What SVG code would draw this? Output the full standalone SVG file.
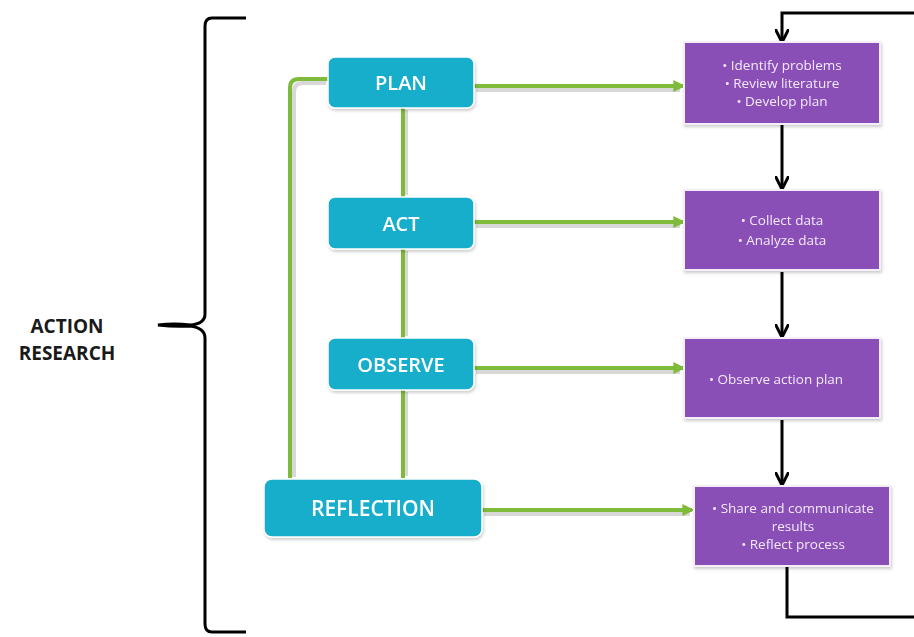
<svg xmlns="http://www.w3.org/2000/svg" width="914" height="637" viewBox="0 0 914 637">
<style>
.bg{fill:#ffffff}
.step rect{fill:#17aecb;stroke:#ffffff;stroke-width:1.5}
.step text{fill:#ffffff;font-family:"Open Sans","Liberation Sans",sans-serif;font-weight:600;text-anchor:middle}
.task rect{fill:#8a4fb6;stroke:#f4eefa;stroke-width:2}
.task text{fill:#f3e9fb;font-family:"Open Sans","Liberation Sans",sans-serif;font-size:13.5px;text-anchor:middle}
.g{fill:none;stroke:#7fbb3a;stroke-width:4}
.gs{fill:none;stroke:#d8d8d8;stroke-width:4}
.k{fill:none;stroke:#000000;stroke-width:3}
.brace{fill:none;stroke:#000000;stroke-width:3}
.lbl{font-family:"Open Sans","Liberation Sans",sans-serif;font-weight:700;font-size:19px;fill:#1a1a1a;text-anchor:middle}
</style>
<defs>
<marker id="ga" viewBox="0 0 10 10" refX="8" refY="5" markerWidth="3" markerHeight="3" orient="auto" markerUnits="strokeWidth">
<path d="M0,0 L10,5 L0,10 z" fill="#7fbb3a"/>
</marker>
<marker id="ka" viewBox="0 0 10 10" refX="9" refY="5" markerWidth="4.5" markerHeight="4.5" orient="auto" markerUnits="strokeWidth">
<path d="M0,0 L10,5 L0,10" fill="none" stroke="#000" stroke-width="2.2"/>
</marker>
<filter id="sh" x="-10%" y="-10%" width="120%" height="130%">
<feDropShadow dx="1" dy="2" stdDeviation="1.5" flood-color="#000" flood-opacity="0.2"/>
</filter>
</defs>
<rect class="bg" x="0" y="0" width="914" height="637"/>

<g id="brace-label">
<path class="brace" d="M246,18 L212,18 Q205,18 205,26 L205,314 Q205,324 190,325 Q175,323 158,325 Q175,327 190,326 Q205,328 205,338 L205,624 Q205,632 212,632 L246,632"/>
<text class="lbl" x="67" y="333">ACTION</text>
<text class="lbl" x="67" y="360">RESEARCH</text>
</g>

<g id="connectors">
<path class="gs" d="M476,90 L680,90"/>
<path class="gs" d="M476,226 L680,226"/>
<path class="gs" d="M476,372 L680,372"/>
<path class="gs" d="M484,514 L690,514"/>
<path class="gs" d="M406,110 L406,195"/>
<path class="gs" d="M406,251 L406,336"/>
<path class="gs" d="M406,392 L406,476"/>
<path class="gs" d="M294,477 L294,92 Q294,83 303,83 L326,83"/>
<path class="g" marker-end="url(#ga)" d="M474,86 L683,86"/>
<path class="g" marker-end="url(#ga)" d="M474,222 L683,222"/>
<path class="g" marker-end="url(#ga)" d="M474,368 L683,368"/>
<path class="g" marker-end="url(#ga)" d="M482,510 L692,510"/>
<path class="g" d="M403,108 L403,197"/>
<path class="g" d="M403,249 L403,338"/>
<path class="g" d="M403,390 L403,478"/>
<path class="g" d="M290,478 L290,88 Q290,79 299,79 L328,79"/>
<path class="k" marker-end="url(#ka)" d="M914,13 L782,13 L782,41"/>
<path class="k" marker-end="url(#ka)" d="M782,125 L782,188"/>
<path class="k" marker-end="url(#ka)" d="M782,272 L782,336"/>
<path class="k" marker-end="url(#ka)" d="M782,420 L782,484"/>
<path class="k" d="M787,567 L787,617 L914,617"/>
</g>

<g id="plan" class="step" filter="url(#sh)">
<rect x="328" y="57" width="146" height="51" rx="7"/>
<text x="401" y="90" font-size="20">PLAN</text>
</g>
<g id="act" class="step" filter="url(#sh)">
<rect x="328" y="197" width="146" height="52" rx="7"/>
<text x="401" y="231" font-size="20">ACT</text>
</g>
<g id="observe" class="step" filter="url(#sh)">
<rect x="328" y="338" width="146" height="52" rx="7"/>
<text x="401" y="372" font-size="20">OBSERVE</text>
</g>
<g id="reflection" class="step" filter="url(#sh)">
<rect x="264" y="479" width="218" height="58" rx="8"/>
<text x="373" y="516" font-size="21">REFLECTION</text>
</g>

<g id="task-plan" class="task" filter="url(#sh)">
<rect x="684" y="42" width="196" height="82"/>
<text x="782" y="70">• Identify problems</text>
<text x="782" y="88">• Review literature</text>
<text x="782" y="106">• Develop plan</text>
</g>
<g id="task-act" class="task" filter="url(#sh)">
<rect x="684" y="190" width="196" height="80"/>
<text x="782" y="225">• Collect data</text>
<text x="782" y="245">• Analyze data</text>
</g>
<g id="task-observe" class="task" filter="url(#sh)">
<rect x="684" y="338" width="196" height="80"/>
<text x="776" y="384">• Observe action plan</text>
</g>
<g id="task-reflect" class="task" filter="url(#sh)">
<rect x="694" y="486" width="196" height="80"/>
<text x="793" y="513">• Share and communicate</text>
<text x="793" y="531">results</text>
<text x="793" y="549">• Reflect process</text>
</g>
</svg>
